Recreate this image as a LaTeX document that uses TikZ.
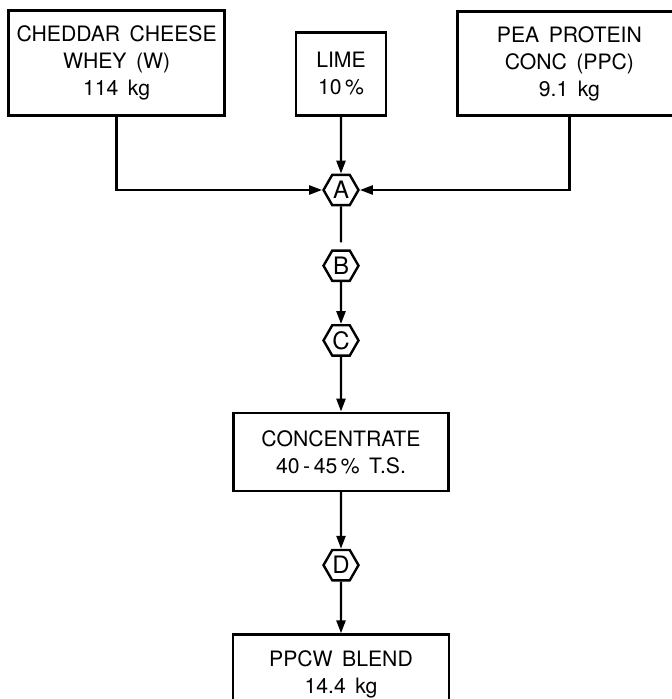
\documentclass[tikz,border=0pt]{standalone}
\usepackage{fontspec}
\newfontfamily\lettering{TeX Gyre Heros}[WordSpace=1.6]
\usetikzlibrary{arrows.meta,positioning,shapes.geometric}

\begin{document}
\begin{tikzpicture}[>={Triangle[length=6.5pt,width=4.5pt]}, line width=1.2pt,
  every node/.style={font=\lettering\fontsize{10.6}{13.5}\selectfont},
  box/.style={draw,align=center,inner sep=0pt},
  hexa/.style={draw,regular polygon,regular polygon sides=6,minimum size=17.5pt,inner sep=0pt,font=\lettering\fontsize{12}{14}\selectfont}]
\useasboundingbox (0,0) rectangle (335.5pt,-349.5pt);
\node[hexa] (A) at (170.5pt,-95pt) {A};
\node[box,minimum width=45pt,minimum height=41.5pt,above=28.5pt of A] (lime) {LIME\\10\,\%};
\node[box,minimum width=108pt,minimum height=52.5pt,left=34.5pt of lime.south west,anchor=south east] (whey) {CHEDDAR CHEESE\\WHEY (W)\\114 kg};
\node[box,minimum width=112pt,minimum height=52pt,right=34.5pt of lime.south east,anchor=south west] (ppc) {PEA PROTEIN\\CONC (PPC)\\9.1 kg};
\node[hexa,below=21.5pt of A] (B) {B};
\node[hexa,below=21pt of B] (C) {C};
\node[box,minimum width=107.5pt,minimum height=39pt,below=27.4pt of C] (conc) {CONCENTRATE\\40\,-\,45\,\% T.S.};
\node[hexa,below=28.4pt of conc] (D) {D};
\node[box,minimum width=108pt,minimum height=40pt,below=25.9pt of D] (blend) {PPCW BLEND\\14.4 kg};
\draw[->] (lime) -- (A);
\draw[->] (whey.south) |- (A.west);
\draw[->] (ppc.south) |- (A.east);
\draw[shorten >=3.5pt] (A) -- (B);
\draw[->] (B) -- (C);
\draw[->] (C) -- (conc);
\draw[->] (conc) -- (D);
\draw[->] (D) -- (blend);
\end{tikzpicture}
\end{document}
